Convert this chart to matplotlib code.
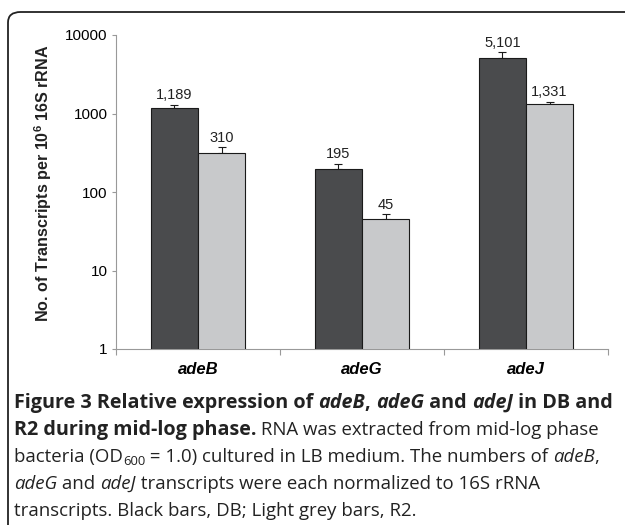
import matplotlib
matplotlib.use("Agg")
import matplotlib.pyplot as plt
import numpy as np
from matplotlib.patches import FancyBboxPatch

# ---- data ----
genes = ["adeB", "adeG", "adeJ"]
db_values = [1189, 195, 5101]
r2_values = [310, 45, 1331]
db_err = [90, 35, 900]
r2_err = [60, 7, 80]
db_labels = ["1,189", "195", "5,101"]
r2_labels = ["310", "45", "1,331"]
yticks = [1, 10, 100, 1000, 10000]
ytick_labels = ["1", "10", "100", "1000", "10000"]

W, H = 625, 525
DPI = 100
plt.rcParams["font.family"] = ["Liberation Sans", "DejaVu Sans"]
plt.rcParams["mathtext.fontset"] = "custom"
plt.rcParams["mathtext.rm"] = "Liberation Sans:bold"
plt.rcParams["mathtext.bf"] = "Liberation Sans:bold"

fig = plt.figure(figsize=(W / DPI, H / DPI), dpi=DPI)
ax = fig.add_axes([116 / W, 1 - 349 / H, (608 - 116) / W, (349 - 35) / H])

dark = "#4a4b4d"
light = "#c8c9cb"
x = np.arange(len(genes))
bw = 0.287
ax.bar(x - bw / 2, db_values, bw, color=dark, edgecolor="#1a1a1a", linewidth=0.8, zorder=3)
ax.bar(x + bw / 2, r2_values, bw, color=light, edgecolor="#1a1a1a", linewidth=0.8, zorder=3)
ax.errorbar(x - bw / 2, db_values, yerr=[np.zeros(3), db_err], fmt="none",
            ecolor="#1a1a1a", elinewidth=0.8, capsize=3, capthick=0.8, zorder=2)
ax.errorbar(x + bw / 2, r2_values, yerr=[np.zeros(3), r2_err], fmt="none",
            ecolor="#1a1a1a", elinewidth=0.8, capsize=3, capthick=0.8, zorder=2)

for xi, v, e, lab in zip(x - bw / 2, db_values, db_err, db_labels):
    ax.annotate(lab, (xi, v + e), xytext=(0, 2), textcoords="offset points",
                ha="center", va="bottom", fontsize=10.5, color="#222222")
for xi, v, e, lab in zip(x + bw / 2, r2_values, r2_err, r2_labels):
    ax.annotate(lab, (xi, v + e), xytext=(0, 2), textcoords="offset points",
                ha="center", va="bottom", fontsize=10.5, color="#222222")

ax.set_yscale("log")
ax.set_ylim(1, 10000)
ax.set_xlim(-0.5, 2.5)
ax.set_yticks(yticks)
ax.set_yticklabels(ytick_labels)
ax.yaxis.set_minor_locator(matplotlib.ticker.NullLocator())
ax.set_xticks(x)
ax.set_xticklabels(genes, fontsize=12, fontweight="bold", fontstyle="italic")
ax.set_xticks([-0.5, 0.5, 1.5, 2.5], minor=True)
ax.tick_params(axis="x", which="major", length=0, pad=9)
ax.tick_params(axis="x", which="minor", length=4, color="#999999", width=0.8)
ax.tick_params(axis="y", length=3, color="#999999", width=0.8, labelsize=11, pad=3)
for s in ["top", "right"]:
    ax.spines[s].set_visible(False)
for s in ["left", "bottom"]:
    ax.spines[s].set_color("#999999")
    ax.spines[s].set_linewidth(0.8)

fig.text(43 / W, 1 - 183 / H, r"No. of Transcripts per 10$^{6}$ 16S rRNA",
         rotation=90, ha="center", va="center", fontsize=11.6, fontweight="bold",
         color="#222222")

# ---- border ----
box = FancyBboxPatch((8 / W, 1 - 540 / H), 640 / W, 528 / H,
                     boxstyle="round,pad=0,rounding_size=0.02",
                     transform=fig.transFigure, fill=False, edgecolor="#222222",
                     linewidth=1.3, clip_on=False)
fig.patches.append(box)

# ---- caption ----
cap_font = ["Open Sans", "DejaVu Sans"]
bold_size = 14.2
reg_size = 13.4
N, B, I, BI = ("normal", "normal"), ("bold", "normal"), ("normal", "italic"), ("bold", "italic")
lines = [
    [("Figure 3 Relative expression of ", B), ("adeB", BI), (", ", B), ("adeG", BI),
     (" and ", B), ("adeJ", BI), (" in DB and", B)],
    [("R2 during mid-log phase.", B), (" RNA was extracted from mid-log phase", N)],
    [("bacteria (OD", N), ("600", "sub"), (" = 1.0) cultured in LB medium. The numbers of ", N),
     ("adeB", I), (",", N)],
    [("adeG", I), (" and ", N), ("adeJ", I), (" transcripts were each normalized to 16S rRNA", N)],
    [("transcripts. Black bars, DB; Light grey bars, R2.", N)],
]
baselines = [408, 435, 462, 489, 516]
renderer = fig.canvas.get_renderer()
for segs, yb in zip(lines, baselines):
    xp = 14
    for text, st in segs:
        if st == "sub":
            t = fig.text(xp / W, 1 - (yb + 3) / H, text, fontsize=reg_size * 0.7,
                         family=cap_font, va="baseline", ha="left", color="#222222")
        else:
            size = bold_size if st[0] == "bold" else reg_size
            t = fig.text(xp / W, 1 - yb / H, text, fontsize=size, family=cap_font,
                         fontweight=st[0], fontstyle=st[1], va="baseline", ha="left",
                         color="#222222")
        xp += t.get_window_extent(renderer).width

fig.savefig("out.png", dpi=DPI)
